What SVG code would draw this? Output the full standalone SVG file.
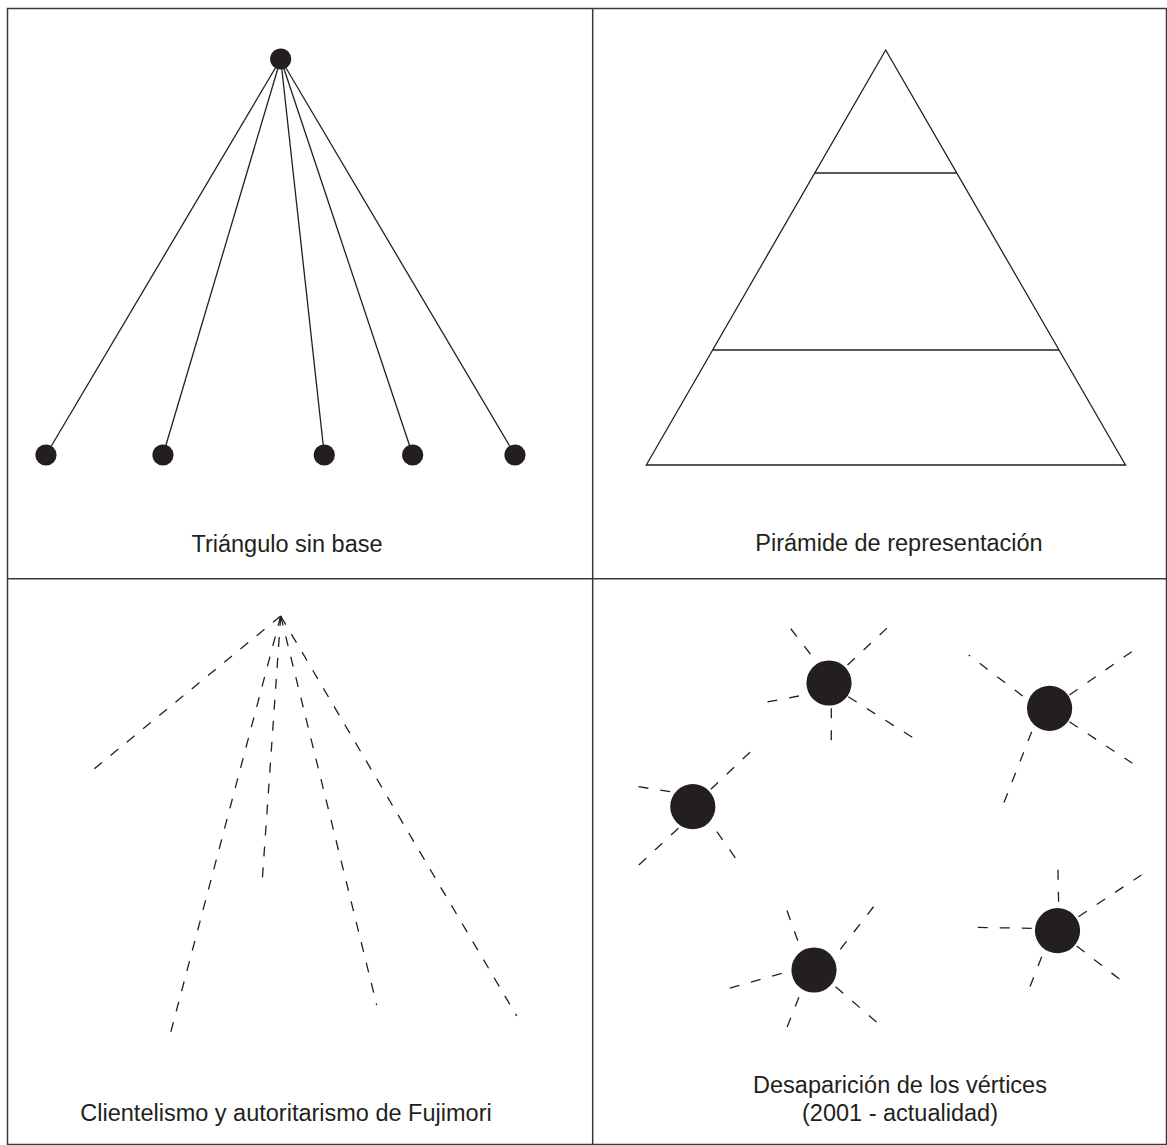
<svg xmlns="http://www.w3.org/2000/svg" width="1167" height="1145" viewBox="0 0 1167 1145">
<style>
.frame{fill:none;stroke:#3a3a3a;stroke-width:1.5}
.solid{stroke:#231f20;stroke-width:1.3;fill:none}
.dash{stroke:#231f20;stroke-width:1.3;fill:none;stroke-dasharray:10 11}
.ray{stroke:#231f20;stroke-width:1.3;fill:none;stroke-dasharray:10 12}
.dot{fill:#231f20}
.lbl{font-family:"Liberation Sans",Arial,sans-serif;font-size:23.5px;fill:#231f20;text-anchor:middle}
</style>
<rect width="1167" height="1145" fill="#ffffff"/>
<g id="frame">
<rect class="frame" x="7.5" y="8.5" width="1159" height="1136"/>
<line class="frame" x1="592.7" y1="8.5" x2="592.7" y2="1144.5"/>
<line class="frame" x1="7.5" y1="578.7" x2="1166.5" y2="578.7"/>
</g>
<g id="connectors">
<g id="tl-lines">
<line class="solid" x1="280.7" y1="59" x2="46" y2="455"/>
<line class="solid" x1="280.7" y1="59" x2="163" y2="455"/>
<line class="solid" x1="280.7" y1="59" x2="324.3" y2="455"/>
<line class="solid" x1="280.7" y1="59" x2="412.7" y2="455"/>
<line class="solid" x1="280.7" y1="59" x2="515" y2="455"/>
</g>
<g id="bl-lines">
<line class="dash" x1="280.7" y1="616" x2="94" y2="769"/>
<line class="dash" x1="280.7" y1="616" x2="170" y2="1035"/>
<line class="dash" x1="280.7" y1="616" x2="261.7" y2="888"/>
<line class="dash" x1="280.7" y1="616" x2="376.7" y2="1005"/>
<line class="dash" x1="280.7" y1="616" x2="516.7" y2="1016"/>
</g>
<g id="br-rays">
<line class="ray" x1="810.4" y1="654" x2="785.3" y2="621.7"/>
<line class="ray" x1="847.5" y1="665" x2="893.2" y2="622.3"/>
<line class="ray" x1="798.9" y1="696" x2="760" y2="703.3"/>
<line class="ray" x1="831.3" y1="708.3" x2="831.3" y2="742.7"/>
<line class="ray" x1="848.2" y1="696.7" x2="912.2" y2="737.3"/>
<line class="ray" x1="1022.7" y1="696" x2="968.7" y2="655"/>
<line class="ray" x1="1069.4" y1="695" x2="1131.7" y2="651.7"/>
<line class="ray" x1="1069.4" y1="721.7" x2="1132.4" y2="763.3"/>
<line class="ray" x1="1031.7" y1="731.7" x2="1001" y2="810"/>
<line class="ray" x1="670.1" y1="791.7" x2="632.4" y2="785.7"/>
<line class="ray" x1="710.8" y1="789.3" x2="756.5" y2="746"/>
<line class="ray" x1="678.4" y1="828.3" x2="634.2" y2="869.3"/>
<line class="ray" x1="716.9" y1="831.7" x2="739.6" y2="864"/>
<line class="ray" x1="797.8" y1="940.7" x2="785.3" y2="906"/>
<line class="ray" x1="840.3" y1="949.3" x2="876.3" y2="903.3"/>
<line class="ray" x1="781.7" y1="973.3" x2="723.4" y2="990"/>
<line class="ray" x1="798.9" y1="997.3" x2="785.3" y2="1031.7"/>
<line class="ray" x1="835.6" y1="986.7" x2="879.9" y2="1025"/>
<line class="ray" x1="1058.6" y1="901.7" x2="1057.9" y2="866.7"/>
<line class="ray" x1="1078.4" y1="916.7" x2="1141.4" y2="875"/>
<line class="ray" x1="1031.7" y1="928.3" x2="970.5" y2="927.3"/>
<line class="ray" x1="1041.7" y1="956.7" x2="1028" y2="991.7"/>
<line class="ray" x1="1076.6" y1="946" x2="1121.6" y2="980.7"/>
</g>
</g>
<g id="node-top"><circle class="dot" cx="280.7" cy="59" r="10.6"/></g>
<g id="node-b1"><circle class="dot" cx="46" cy="455" r="10.6"/></g>
<g id="node-b2"><circle class="dot" cx="163" cy="455" r="10.6"/></g>
<g id="node-b3"><circle class="dot" cx="324.3" cy="455" r="10.6"/></g>
<g id="node-b4"><circle class="dot" cx="412.7" cy="455" r="10.6"/></g>
<g id="node-b5"><circle class="dot" cx="515" cy="455" r="10.6"/></g>
<g id="label-tl"><text class="lbl" x="287" y="552">Triángulo sin base</text></g>
<g id="pyramid">
<polygon class="solid" points="885.7,50 646.3,465 1125.5,465"/>
<line class="solid" x1="814.7" y1="173" x2="956.8" y2="173"/>
<line class="solid" x1="712.6" y1="350" x2="1059" y2="350"/>
</g>
<g id="label-tr"><text class="lbl" x="899" y="551">Pirámide de representación</text></g>
<g id="label-bl"><text class="lbl" x="286" y="1121">Clientelismo y autoritarismo de Fujimori</text></g>
<g id="node-c1"><circle class="dot" cx="829" cy="683" r="22.6"/></g>
<g id="node-c2"><circle class="dot" cx="1049.6" cy="708.3" r="22.6"/></g>
<g id="node-c3"><circle class="dot" cx="692.8" cy="806.7" r="22.6"/></g>
<g id="node-c4"><circle class="dot" cx="814" cy="970" r="22.6"/></g>
<g id="node-c5"><circle class="dot" cx="1057.5" cy="930.7" r="22.6"/></g>
<g id="label-br">
<text class="lbl" x="900" y="1093">Desaparición de los vértices</text>
<text class="lbl" x="900" y="1121">(2001 - actualidad)</text>
</g>
</svg>
